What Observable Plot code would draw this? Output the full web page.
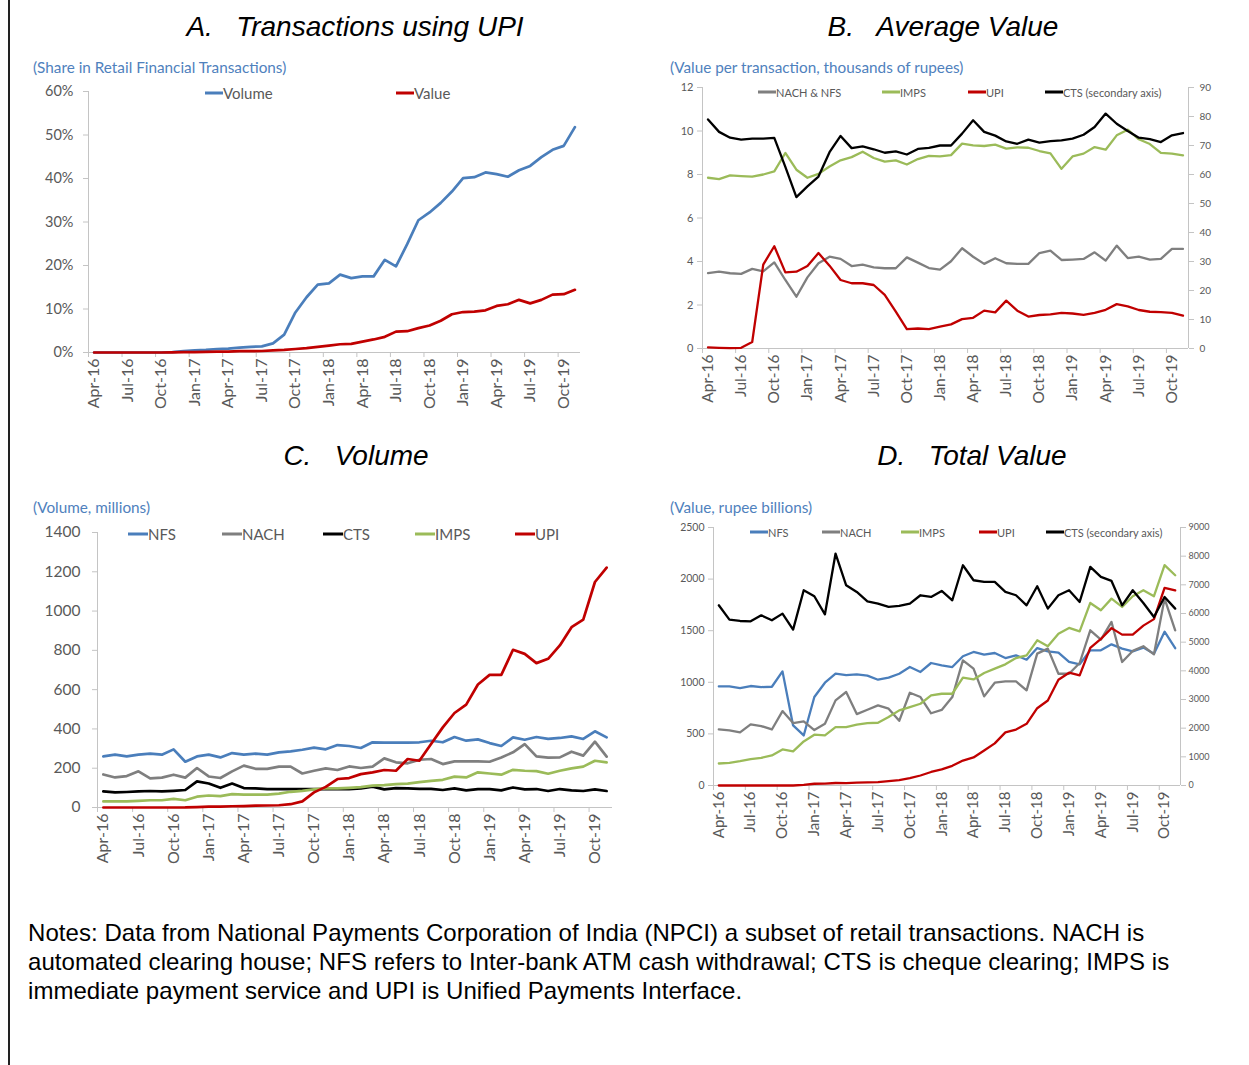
<!DOCTYPE html>
<html>
<head>
<meta charset="utf-8">
<script src="https://cdn.jsdelivr.net/npm/d3@7"></script>
<script src="https://cdn.jsdelivr.net/npm/@observablehq/plot@0.6"></script>
<style>
  html, body { margin: 0; padding: 0; background: #fff; }
  body { width: 1249px; height: 1065px; position: relative; overflow: hidden; font-family: Lato, "Open Sans", sans-serif; }
  .abs { position: absolute; }
  .title { font-family: "Liberation Sans", Arial, sans-serif; font-style: italic; font-size: 28px; white-space: pre; color: #000; transform: translate(-50%, -50%); line-height: 1; }
  .sub { color: #4f81bd; white-space: pre; transform: translateY(-50%); line-height: 1; }
  .leg { color: #595959; white-space: pre; transform: translateY(-50%); line-height: 1; display: flex; align-items: center; }
  .sw { display: inline-block; height: 3px; }
  .notes { font-family: "Liberation Sans", Arial, sans-serif; font-size: 24px; line-height: 29px; color: #000; white-space: pre; letter-spacing: 0.05px; }
  .border { left: 8px; top: 0; width: 2px; height: 1065px; background: #222; }
</style>
</head>
<body>
<div class="abs border"></div>
<div id="root"></div>
<script>
// ---------------- DATA ----------------
const months = ["Apr-16","May-16","Jun-16","Jul-16","Aug-16","Sep-16","Oct-16","Nov-16","Dec-16",
  "Jan-17","Feb-17","Mar-17","Apr-17","May-17","Jun-17","Jul-17","Aug-17","Sep-17","Oct-17","Nov-17","Dec-17",
  "Jan-18","Feb-18","Mar-18","Apr-18","May-18","Jun-18","Jul-18","Aug-18","Sep-18","Oct-18","Nov-18","Dec-18",
  "Jan-19","Feb-19","Mar-19","Apr-19","May-19","Jun-19","Jul-19","Aug-19","Sep-19","Oct-19","Nov-19"];
const labelIdx = [0,3,6,9,12,15,18,21,24,27,30,33,36,39,42];
const boundIdx = [-0.5,2.5,5.5,8.5,11.5,14.5,17.5,20.5,23.5,26.5,29.5,32.5,35.5,38.5,41.5];

// A. Transactions using UPI (share, %)
const A_volume = [0,0,0,0,0,0,0,0.1,0.3,0.5,0.6,0.8,0.9,1.1,1.3,1.4,2.1,4.1,9.2,12.7,15.6,15.9,17.9,17.1,17.5,17.5,21.3,19.8,24.9,30.4,32.2,34.4,37.0,40.1,40.3,41.4,41.0,40.4,41.9,42.9,44.9,46.6,47.5,51.8];
const A_value  = [0,0,0,0,0,0,0,0.05,0.1,0.1,0.15,0.2,0.2,0.3,0.3,0.35,0.5,0.6,0.8,1.0,1.3,1.6,1.9,2.0,2.5,3.0,3.6,4.8,4.9,5.6,6.2,7.3,8.8,9.3,9.4,9.7,10.7,11.1,12.1,11.3,12.1,13.3,13.4,14.4];
const A_yTicks = [0,10,20,30,40,50,60];

// B. Average value (thousands of rupees); CTS on secondary axis
const B_nachnfs = [3.47,3.53,3.46,3.43,3.66,3.55,3.96,3.15,2.38,3.27,3.92,4.22,4.12,3.79,3.86,3.73,3.69,3.69,4.19,3.95,3.70,3.63,4.01,4.61,4.22,3.89,4.15,3.92,3.89,3.89,4.39,4.50,4.07,4.09,4.12,4.42,4.04,4.73,4.16,4.22,4.09,4.12,4.58,4.58];
const B_imps = [7.85,7.79,7.96,7.93,7.90,8.00,8.14,8.99,8.22,7.85,8.03,8.37,8.65,8.80,9.05,8.76,8.59,8.65,8.46,8.71,8.86,8.83,8.89,9.42,9.34,9.31,9.37,9.19,9.25,9.23,9.08,8.97,8.26,8.83,8.96,9.26,9.14,9.80,10.06,9.62,9.40,8.99,8.96,8.88];
const B_upi = [0.05,0.03,0.02,0.03,0.3,3.86,4.70,3.50,3.53,3.79,4.39,3.81,3.15,3.00,3.00,2.92,2.47,1.70,0.89,0.92,0.89,1.01,1.11,1.35,1.41,1.74,1.66,2.20,1.74,1.47,1.54,1.57,1.64,1.61,1.55,1.64,1.78,2.04,1.94,1.77,1.69,1.67,1.64,1.51];
const B_cts = [79.0,74.7,72.7,72.0,72.4,72.4,72.6,62.6,52.2,55.9,59.3,67.7,73.3,69.1,69.7,68.7,67.5,68.0,66.9,68.8,69.2,70.0,70.0,74.1,78.7,74.7,73.4,71.4,70.6,72.0,71.0,71.5,71.8,72.4,73.7,76.4,81.0,77.5,75.0,72.7,72.2,71.2,73.5,74.3];
const B_yTicks = [0,2,4,6,8,10,12];
const B_y2Ticks = [0,10,20,30,40,50,60,70,80,90];

// C. Volume (millions)
const C_nfs = [260,269,260,269,274,269,296,233,260,269,255,277,269,274,269,281,286,294,305,296,318,313,303,332,330,330,330,332,340,332,359,340,347,328,313,357,345,359,349,354,362,349,388,357];
const C_nach = [168,153,160,184,148,152,167,152,201,158,150,184,213,197,197,208,208,173,187,199,191,209,201,208,250,230,225,243,247,221,235,235,235,233,255,281,323,260,254,255,284,264,335,259];
const C_cts = [82,77,79,82,84,82,85,89,133,122,100,122,99,97,94,94,94,94,94,94,94,94,97,106,92,99,97,95,95,89,97,87,94,94,87,102,92,94,84,94,87,84,92,84];
const C_imps = [31,31,31,34,37,37,44,37,55,61,58,68,66,66,66,71,80,85,92,97,97,100,104,111,114,119,122,129,136,141,157,153,179,173,167,192,187,185,172,187,199,208,238,230];
const C_upi = [0,0,0,0,0.1,0.1,0.1,0.3,2,4.2,4.2,6.4,7.2,9.2,10.2,11.4,16.8,31,77,105,145,150,170,179,191,187,247,238,323,408,481,524,626,675,675,803,782,735,757,825,918,956,1148,1221];
const C_yTicks = [0,200,400,600,800,1000,1200,1400];

// D. Total value (rupee billions); CTS on secondary axis
const D_nfs = [960,960,944,964,954,957,1106,582,485,857,996,1083,1070,1077,1064,1025,1045,1083,1148,1100,1187,1164,1148,1252,1294,1268,1284,1235,1261,1219,1332,1300,1287,1197,1174,1310,1310,1368,1326,1300,1336,1277,1490,1330];
const D_nach = [543,534,514,592,576,543,721,605,621,537,598,825,906,692,734,776,744,627,899,857,700,732,857,1213,1132,864,996,1009,1009,922,1278,1326,1083,1083,1187,1504,1413,1585,1197,1304,1349,1271,1811,1504];
const D_imps = [213,220,236,256,268,291,349,330,427,492,485,566,566,589,605,608,663,728,760,792,873,889,889,1045,1028,1090,1132,1174,1235,1261,1407,1349,1471,1527,1494,1769,1698,1811,1730,1834,1892,1834,2135,2037];
const D_upi = [0,0,0,0,0,0,0,0,7,17,19,24,23,27,30,32,42,53,71,97,131,156,191,242,272,339,408,515,542,598,749,824,1025,1093,1067,1334,1420,1525,1462,1463,1549,1612,1915,1890];
const D_cts = [6286,5786,5739,5728,5937,5763,5995,5437,6810,6601,5972,8091,6985,6752,6426,6345,6228,6263,6345,6636,6577,6787,6461,7683,7160,7101,7101,6752,6636,6286,6950,6170,6636,6810,6403,7625,7276,7136,6286,6810,6368,5879,6577,6170];
const D_yTicks = [0,500,1000,1500,2000,2500];
const D_y2Ticks = [0,1000,2000,3000,4000,5000,6000,7000,8000,9000];

// ---------------- STYLE ----------------
const FONT = "Lato, 'Open Sans', sans-serif";
const AXIS = "#c4c4c4", LAB = "#595959";
const BLUE = "#4a7ebb", RED = "#c00000", GRAY = "#7f7f7f", GREEN = "#9bbb59", BLACK = "#000000";
const root = document.getElementById("root");

function add(html, cls, style) {
  const d = document.createElement("div");
  d.className = "abs " + cls;
  Object.assign(d.style, style);
  d.innerHTML = html;
  root.appendChild(d);
  return d;
}

function legend(items, y, fs, swW) {
  for (const it of items) {
    add(`<span class="sw" style="width:${swW}px;background:${it.color}"></span><span>${it.label}</span>`,
      "leg", {left: it.x + "px", top: y + "px", fontSize: fs + "px"});
  }
}

function panel(cfg) {
  const idx = d3.range(months.length);
  const marks = [
    Plot.ruleY([0], {stroke: AXIS}),
    Plot.ruleX([-0.5], {stroke: AXIS}),
    Plot.axisY({ticks: cfg.yTicks, tickFormat: cfg.yFmt, tickSize: 5, tickPadding: cfg.yOff - 5,
      stroke: AXIS, fill: LAB, fontSize: cfg.yFs, label: null}),
    Plot.axisX({ticks: labelIdx, tickFormat: i => months[i], tickRotate: -90, tickSize: 0, tickPadding: 6,
      fill: LAB, fontSize: cfg.xFs, label: null}),
    Plot.axisX({ticks: boundIdx, tickFormat: () => "", tickSize: 5, stroke: AXIS, label: null})
  ];
  if (cfg.y2) {
    const r = cfg.y2.ratio;
    marks.push(Plot.ruleX([43.5], {stroke: AXIS}));
    marks.push(Plot.axisY({anchor: "right", ticks: cfg.y2.ticks.map(v => v / r), tickFormat: d => String(Math.round(d * r)),
      tickSize: 5, tickPadding: cfg.y2.off - 5, stroke: AXIS, fill: LAB, fontSize: cfg.y2.fs, label: null}));
  }
  for (const L of cfg.lines) {
    const r = L.ratio || 1;
    marks.push(Plot.line(idx, {x: i => i, y: i => L.values[i] / r, stroke: L.color, strokeWidth: cfg.sw,
      strokeLinejoin: "round", strokeLinecap: "round"}));
  }
  const svg = Plot.plot({
    width: cfg.width, height: cfg.height,
    marginLeft: cfg.ml, marginRight: cfg.mr, marginTop: cfg.mt, marginBottom: cfg.mb,
    x: {type: "linear", domain: [-0.5, 43.5]},
    y: {domain: [0, cfg.yMax]},
    style: {fontFamily: FONT, background: "transparent", overflow: "visible"},
    marks
  });
  const wrap = add("", "", {left: cfg.left + "px", top: cfg.top + "px"});
  wrap.appendChild(svg);
}

// ---------------- TITLES ----------------
add("A.   Transactions using UPI", "title", {left: "355px", top: "27px"});
add("B.   Average Value", "title", {left: "943px", top: "27px"});
add("C.   Volume", "title", {left: "356px", top: "456px"});
add("D.   Total Value", "title", {left: "972px", top: "456px"});

add("(Share in Retail Financial Transactions)", "sub", {left: "33px", top: "68px", fontSize: "15.3px"});
add("(Value per transaction, thousands of rupees)", "sub", {left: "670px", top: "68px", fontSize: "15.3px"});
add("(Volume, millions)", "sub", {left: "33px", top: "508px", fontSize: "15.3px"});
add("(Value, rupee billions)", "sub", {left: "670px", top: "508px", fontSize: "15.3px"});

// ---------------- PANELS ----------------
panel({left: 20, top: 80, width: 580, height: 345, ml: 68, mr: 20, mt: 11, mb: 73,
  yMax: 60, yTicks: A_yTicks, yFmt: d => d + "%", yFs: 14.5, yOff: 15, xFs: 16, sw: 2.7,
  lines: [{values: A_volume, color: BLUE}, {values: A_value, color: RED}]});
legend([{x: 205, label: "Volume", color: BLUE}, {x: 396, label: "Value", color: RED}], 93, 15, 18);

panel({left: 640, top: 80, width: 600, height: 345, ml: 62, mr: 52, mt: 7, mb: 77,
  yMax: 12, yTicks: B_yTicks, yFmt: d => String(d), yFs: 11, yOff: 9, xFs: 15.5, sw: 2.3,
  y2: {ratio: 7.5, ticks: B_y2Ticks, off: 11, fs: 10},
  lines: [{values: B_nachnfs, color: GRAY}, {values: B_imps, color: GREEN}, {values: B_upi, color: RED},
          {values: B_cts, color: BLACK, ratio: 7.5}]});
legend([{x: 758, label: "NACH &amp; NFS", color: GRAY}, {x: 882, label: "IMPS", color: GREEN},
        {x: 968, label: "UPI", color: RED}, {x: 1045, label: "CTS (secondary axis)", color: BLACK}], 92, 11, 18);

panel({left: 20, top: 520, width: 600, height: 360, ml: 77, mr: 8, mt: 12, mb: 73,
  yMax: 1400, yTicks: C_yTicks, yFmt: d => String(d), yFs: 15.5, yOff: 17, xFs: 16, sw: 2.7,
  lines: [{values: C_nfs, color: BLUE}, {values: C_nach, color: GRAY}, {values: C_cts, color: BLACK},
          {values: C_imps, color: GREEN}, {values: C_upi, color: RED}]});
legend([{x: 128, label: "NFS", color: BLUE}, {x: 222, label: "NACH", color: GRAY}, {x: 323, label: "CTS", color: BLACK},
        {x: 415, label: "IMPS", color: GREEN}, {x: 515, label: "UPI", color: RED}], 534, 15, 20);

panel({left: 640, top: 515, width: 600, height: 360, ml: 73, mr: 60, mt: 12, mb: 90,
  yMax: 2500, yTicks: D_yTicks, yFmt: d => String(d), yFs: 10.5, yOff: 9, xFs: 15, sw: 2.3,
  y2: {ratio: 3.6, ticks: D_y2Ticks, off: 8, fs: 9},
  lines: [{values: D_nfs, color: BLUE}, {values: D_nach, color: GRAY}, {values: D_imps, color: GREEN},
          {values: D_upi, color: RED}, {values: D_cts, color: BLACK, ratio: 3.6}]});
legend([{x: 750, label: "NFS", color: BLUE}, {x: 822, label: "NACH", color: GRAY}, {x: 901, label: "IMPS", color: GREEN},
        {x: 979, label: "UPI", color: RED}, {x: 1046, label: "CTS (secondary axis)", color: BLACK}], 532, 11, 18);

// ---------------- NOTES ----------------
add("Notes: Data from National Payments Corporation of India (NPCI) a subset of retail transactions. NACH is\nautomated clearing house; NFS refers to Inter-bank ATM cash withdrawal; CTS is cheque clearing; IMPS is\nimmediate payment service and UPI is Unified Payments Interface.",
  "notes", {left: "28px", top: "918px"});
</script>
</body>
</html>
